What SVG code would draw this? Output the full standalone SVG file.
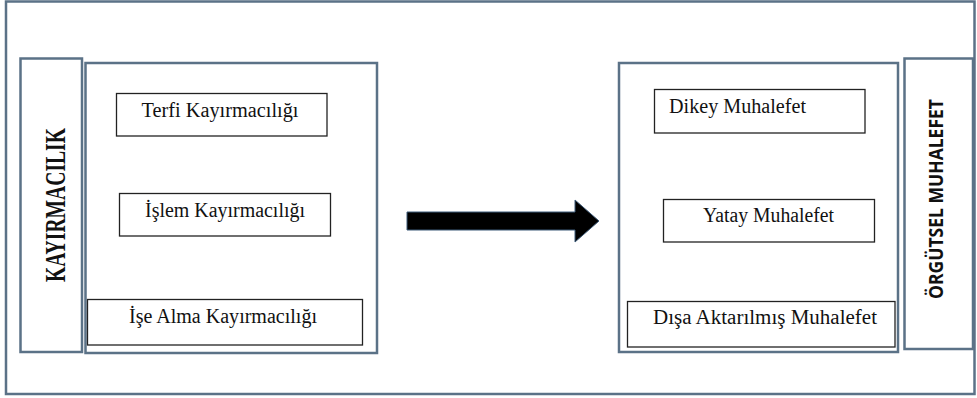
<svg xmlns="http://www.w3.org/2000/svg" width="977" height="398" viewBox="0 0 977 398">
  <style>
    .frame { fill: #ffffff; stroke: #5b7287; stroke-width: 2.5; }
    .panel { fill: #ffffff; stroke: #5b7287; stroke-width: 2.5; }
    .item { fill: #ffffff; stroke: #222222; stroke-width: 1.3; }
    .lbl { font-family: "Liberation Serif", "Times New Roman", serif; font-size: 20.5px; fill: #111111; }
    .title-serif { font-family: "Liberation Serif", "Times New Roman", serif; font-weight: bold; font-size: 29px; fill: #111111; }
    .title-sans { font-family: "Open Sans", "Liberation Sans", sans-serif; font-weight: bold; font-size: 19px; fill: #111111; }
  </style>

  <rect class="frame" x="6" y="1.5" width="968.5" height="392.5"/>

  <g id="kayirmacilik">
    <rect class="panel" x="20.5" y="58.5" width="61.5" height="293.5"/>
    <text class="title-serif" transform="translate(65,282) rotate(-90)" textLength="154" lengthAdjust="spacingAndGlyphs">KAYIRMACILIK</text>
  </g>

  <g id="kayirmacilik-turleri">
    <rect class="panel" x="85.5" y="63" width="291.5" height="290"/>
  </g>

  <g id="terfi">
    <rect class="item" x="116.5" y="93.5" width="210.5" height="42.5"/>
    <text class="lbl" x="141.5" y="117" textLength="157" lengthAdjust="spacingAndGlyphs">Terfi Kayırmacılığı</text>
  </g>

  <g id="islem">
    <rect class="item" x="119.5" y="193.5" width="211" height="42.5"/>
    <text class="lbl" x="145" y="217" textLength="160" lengthAdjust="spacingAndGlyphs">İşlem Kayırmacılığı</text>
  </g>

  <g id="ise-alma">
    <rect class="item" x="87.5" y="299.5" width="275" height="45.5"/>
    <text class="lbl" x="129" y="323" textLength="188" lengthAdjust="spacingAndGlyphs">İşe Alma Kayırmacılığı</text>
  </g>

  <g id="connectors">
    <path d="M407,212 L575,212 L575,200 L599,221 L575,242 L575,230 L407,230 Z" fill="#000000" stroke="#3d5a78" stroke-width="1"/>
  </g>

  <g id="muhalefet-turleri">
    <rect class="panel" x="619" y="63" width="279" height="289"/>
  </g>

  <g id="dikey">
    <rect class="item" x="654.5" y="89.5" width="210.5" height="43.5"/>
    <text class="lbl" x="669" y="113" textLength="137" lengthAdjust="spacingAndGlyphs">Dikey Muhalefet</text>
  </g>

  <g id="yatay">
    <rect class="item" x="663.5" y="199.5" width="211" height="42.5"/>
    <text class="lbl" x="703" y="222" textLength="131" lengthAdjust="spacingAndGlyphs">Yatay Muhalefet</text>
  </g>

  <g id="disa-aktarilmis">
    <rect class="item" x="627.5" y="301.5" width="267.5" height="45.5"/>
    <text class="lbl" x="653" y="324" textLength="224" lengthAdjust="spacingAndGlyphs">Dışa Aktarılmış Muhalefet</text>
  </g>

  <g id="orgutsel-muhalefet">
    <rect class="panel" x="904.5" y="58.5" width="68.5" height="290.5"/>
    <text class="title-sans" transform="translate(943,299) rotate(-90)" textLength="200" lengthAdjust="spacingAndGlyphs">ÖRGÜTSEL MUHALEFET</text>
  </g>
</svg>
